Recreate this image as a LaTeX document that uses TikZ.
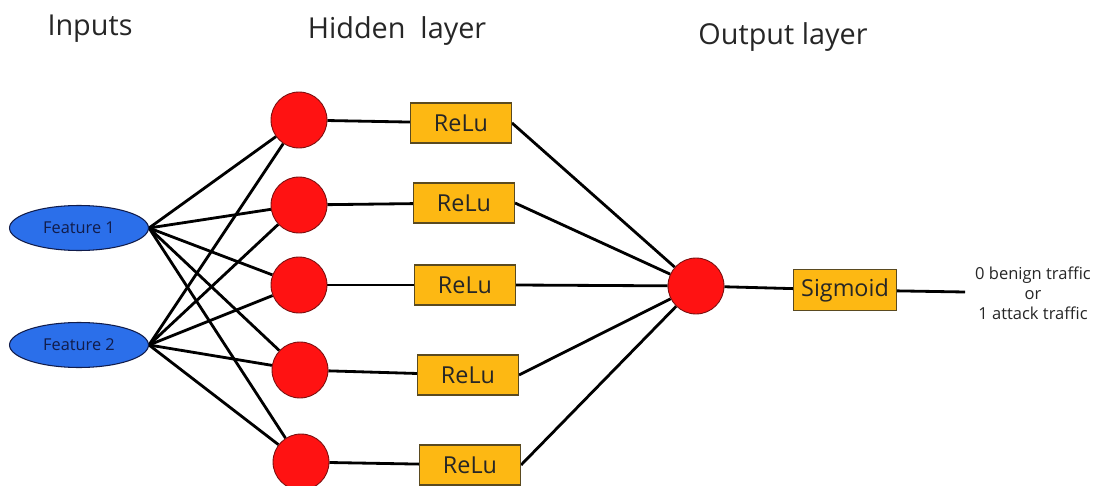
\documentclass[tikz,border=0pt]{standalone}
\usepackage{fontspec}
\setmainfont{Open Sans}
\usetikzlibrary{shapes.geometric}
\definecolor{featblue}{HTML}{2B6FEA}
\definecolor{feattext}{HTML}{111C4A}
\definecolor{neuronred}{HTML}{FF1212}
\definecolor{neuronedge}{HTML}{7A1010}
\definecolor{actgold}{HTML}{FDB813}
\definecolor{actedge}{HTML}{5A4A20}
\pgfdeclarelayer{links}
\pgfsetlayers{links,main}
\tikzset{
  feature/.style={ellipse, draw=feattext, line width=0.6pt, fill=featblue,
    minimum width=2.78cm, minimum height=0.9cm, inner sep=0pt,
    text=feattext, font=\fontsize{9.3}{10}\selectfont},
  neuron/.style={circle, draw=neuronedge, line width=0.5pt, fill=neuronred,
    minimum size=1.12cm, inner sep=0pt},
  actbox/.style={rectangle, draw=actedge, line width=0.6pt, fill=actgold,
    minimum width=2.02cm, minimum height=0.8cm, inner sep=0pt,
    text=black!85, font=\fontsize{13.3}{15}\selectfont},
  title/.style={font=\fontsize{16.4}{18}\selectfont, text=black!85},
  link/.style={line width=1.6pt, black},
}
\begin{document}
\begin{tikzpicture}[x=0.02cm, y=-0.02cm]
  \useasboundingbox (0,0) rectangle (1097,486);

  % column headings
  \node[title] (tin)  at (90,29)  {Inputs};
  \node[title] (thid) at (397,31) {Hidden\ \ layer};
  \node[title] (tout) at (783,37) {Output layer};

  % input features
  \node[feature] (f1) at (79,228) {Feature 1};
  \node[feature] (f2) at (79,345) {Feature 2};

  % hidden neurons
  \node[neuron] (h1) at (299,120) {};
  \node[neuron] (h2) at (299,205) {};
  \node[neuron] (h3) at (299,285) {};
  \node[neuron] (h4) at (300,370) {};
  \node[neuron] (h5) at (301,462) {};

  % activation boxes
  \node[actbox] (r1) at (461,123) {ReLu};
  \node[actbox] (r2) at (464,203) {ReLu};
  \node[actbox] (r3) at (465,285) {ReLu};
  \node[actbox] (r4) at (468,375) {ReLu};
  \node[actbox] (r5) at (470,465) {ReLu};

  % output neuron and sigmoid
  \node[neuron] (o) at (696,286) {};
  \node[actbox, minimum width=2.06cm, minimum height=0.82cm] (s) at (845,290) {Sigmoid};
  \coordinate (end) at (965,292);
  \node[font=\fontsize{9.4}{11.3}\selectfont, align=center, text=black!85,
        inner sep=0pt] (res) at (1033,293)
        {0 benign traffic\\or\\1 attack traffic};

  % all connectors sit beneath the shapes
  \begin{pgfonlayer}{links}
    \foreach \f in {f1,f2}
      \foreach \h in {h1,h2,h3,h4,h5}
        \draw[link] (\f.east) -- (\h);
    \foreach \i in {1,...,5} {
      \draw[link] (h\i) -- (r\i);
      \draw[link] (r\i.east) -- (o);
    }
    \draw[link] (o) -- (s);
    \draw[link] (s) -- (end);
  \end{pgfonlayer}
\end{tikzpicture}
\end{document}
